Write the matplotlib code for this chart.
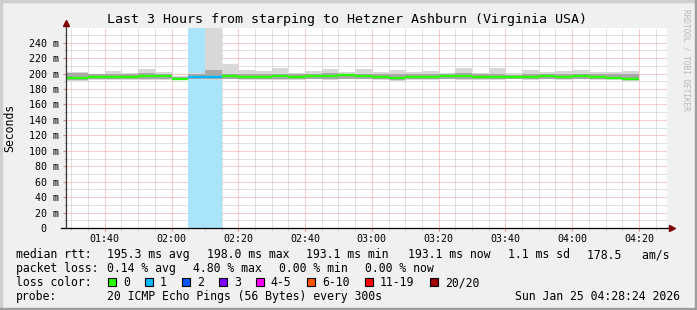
import numpy as np
import matplotlib.pyplot as plt
from matplotlib.patches import Rectangle
from matplotlib.ticker import FixedLocator, FuncFormatter

# 5-minute bins, labelled by their end time
times = ["01:30", "01:35", "01:40", "01:45", "01:50", "01:55", "02:00", "02:05",
         "02:10", "02:15", "02:20", "02:25", "02:30", "02:35", "02:40", "02:45",
         "02:50", "02:55", "03:00", "03:05", "03:10", "03:15", "03:20", "03:25",
         "03:30", "03:35", "03:40", "03:45", "03:50", "03:55", "04:00", "04:05",
         "04:10", "04:15", "04:20"]
median_ms = [194.2, 194.2, 195.8, 195.8, 195.3, 196.2, 196.6, 193.4, 195.4, 195.4,
             196.2, 195.2, 195.7, 196.2, 195.9, 196.6, 196.2, 198.0, 196.6, 195.2,
             194.6, 195.7, 195.7, 196.6, 196.6, 195.7, 195.7, 195.7, 195.7, 196.6,
             195.7, 196.6, 195.2, 194.4, 193.1]
loss = [0, 0, 0, 0, 0, 0, 0, 0, 1, 1, 0, 0, 0, 0, 0, 0, 0, 0, 0, 0, 0, 0, 0, 0,
        0, 0, 0, 0, 0, 0, 0, 0, 0, 0, 0]
smoke_lo = [191.0, 191.0, 192.0, 192.0, 191.5, 192.0, 192.0, 192.0, 192.5, 192.0,
            192.5, 191.5, 192.0, 192.0, 192.0, 192.5, 192.0, 192.5, 192.5, 191.5,
            191.0, 192.0, 192.0, 192.5, 192.0, 192.0, 192.0, 192.5, 192.0, 192.5,
            192.0, 192.5, 191.5, 191.5, 191.0]
smoke_q1 = [192.0, 192.0, 193.0, 193.0, 192.5, 193.0, 193.0, 192.5, 193.5, 193.0,
            193.5, 192.5, 193.0, 193.0, 193.0, 193.5, 193.0, 193.5, 193.5, 192.5,
            192.0, 193.0, 193.0, 193.5, 193.0, 193.0, 193.0, 193.5, 193.0, 193.5,
            193.0, 193.5, 192.5, 192.5, 192.0]
smoke_q3 = [200.5, 200.5, 198.8, 200.0, 199.5, 200.5, 199.8, 196.0, 199.5, 204.5,
            200.0, 199.5, 199.0, 200.0, 199.0, 199.5, 200.5, 200.0, 200.0, 199.5,
            199.5, 199.0, 200.0, 199.5, 200.5, 199.0, 200.0, 198.5, 200.0, 199.5,
            199.5, 200.0, 199.0, 199.5, 200.0]
smoke_hi = [202.3, 202.3, 199.8, 203.7, 200.6, 205.8, 202.3, 197.0, 201.0, 300.0,
            212.3, 204.5, 202.8, 207.0, 200.6, 203.7, 205.8, 201.5, 205.8, 201.5,
            204.5, 201.5, 203.7, 201.0, 207.0, 201.0, 207.0, 200.6, 204.5, 202.3,
            203.0, 204.5, 202.3, 202.3, 203.7]

t_start = "01:28:24"
t_end = "04:28:24"

loss_labels = ["0", "1", "2", "3", "4-5", "6-10", "11-19", "20/20"]
loss_colors = ["#26ff00", "#00b8ff", "#0059ff", "#7e00ff", "#ff00ff", "#ff5500",
               "#ff0000", "#a00000"]

stats_rtt = ["195.3 ms avg", "198.0 ms max", "193.1 ms min", "193.1 ms now",
             "1.1 ms sd", "178.5   am/s"]
stats_loss = ["0.14 % avg", "4.80 % max", "0.00 % min", "0.00 % now"]


def to_min(s):
    parts = [int(p) for p in s.split(":")]
    while len(parts) < 3:
        parts.append(0)
    return parts[0] * 60 + parts[1] + parts[2] / 60.0


W, H = 697, 310
plt.rcParams["font.family"] = "DejaVu Sans Mono"

fig = plt.figure(figsize=(W / 100, H / 100), dpi=100, facecolor="#f0f0f0")
# plot area on whole pixels so the 1px dotted grid stays crisp
AX_L, AX_R, AX_B, AX_T = 66, 667, 228, 28
ax = fig.add_axes([AX_L / W, (H - AX_B) / H, (AX_R - AX_L) / W, (AX_B - AX_T) / H])
ax.set_facecolor("white")

ends = np.array([to_min(t) for t in times])
med = np.array(median_ms)
ymax = 259

# loss background
lossy = np.array(loss) > 0
ax.bar(ends[lossy], ymax, width=-5, align="edge", bottom=0, color="#aae4fa",
       linewidth=0, zorder=1)

# smoke
lo, q1, q3, hi = map(np.array, (smoke_lo, smoke_q1, smoke_q3, smoke_hi))
ax.bar(ends, hi - lo, bottom=lo, width=-5, align="edge", color="#d8d8d8",
       linewidth=0, zorder=2)
ax.bar(ends, q3 - q1, bottom=q1, width=-5, align="edge", color="#a8a8a8",
       linewidth=0, zorder=3)

# median line coloured by loss
ax.hlines(med, ends - 5, ends, colors=[loss_colors[l] for l in loss], lw=1.7,
          zorder=4)

ax.set_xlim(to_min(t_start), to_min(t_end))
ax.set_ylim(0, ymax)

# grid
ax.xaxis.set_major_locator(FixedLocator(np.arange(100, 270, 20)))
ax.xaxis.set_minor_locator(FixedLocator(np.arange(90, 270, 5)))
ax.yaxis.set_major_locator(FixedLocator(np.arange(0, 241, 20)))
ax.yaxis.set_minor_locator(FixedLocator(np.arange(10, 251, 10)))
ax.xaxis.set_major_formatter(FuncFormatter(lambda v, p: f"{int(v) // 60:02d}:{int(v) % 60:02d}"))
ax.yaxis.set_major_formatter(FuncFormatter(lambda v, p: "0  " if v == 0 else f"{v:.0f} m"))
ax.grid(which="minor", color="#c4c4c4", linestyle=(0, (1, 1)), lw=0.72, zorder=0)
ax.grid(which="major", color="#f29a9a", linestyle=(0, (1, 1)), lw=0.72, zorder=0)
ax.set_axisbelow(True)
ax.tick_params(which="both", direction="out", labelsize=7.2, pad=1.5)
ax.tick_params(which="major", length=2.5, color="#e08080")
ax.tick_params(which="minor", length=1.5, color="#b0b0b0")
ax.tick_params(axis="y", pad=2.5)
for s in ax.spines.values():
    s.set_visible(False)

# axes with arrows
ax.plot([-0.008, 1.006], [0, 0], transform=ax.transAxes, color="black", lw=0.9,
        clip_on=False, zorder=6)
ax.plot([0, 0], [0, 1.02], transform=ax.transAxes, color="#333333", lw=0.9,
        clip_on=False, zorder=6)
ax.plot([1.008], [0], marker=">", ms=4, color="#7f0000", transform=ax.transAxes,
        clip_on=False, zorder=7)
ax.plot([0], [1.025], marker="^", ms=4, color="#7f0000", transform=ax.transAxes,
        clip_on=False, zorder=7)

ax.set_ylabel("Seconds", fontsize=8.3)
ax.yaxis.set_label_coords(-50 / (AX_R - AX_L), 0.5)


def px(x, y):
    return x / W, 1 - y / H


fig.text(*px(347, 19), "Last 3 Hours from starping to Hetzner Ashburn (Virginia USA)",
         fontsize=9.6, ha="center", va="center")
fig.text(*px(686, 60), "RRDTOOL / TOBI OETIKER", fontsize=5.6, color="#b8b8b8",
         rotation=270, ha="center", va="center")

LS = 8.3
BL = 4.0  # baseline offset below row centre


def row(x, y, s, **kw):
    fig.text(*px(x, y + BL), s, fontsize=LS, va="baseline", **kw)


row(16, 254, "median rtt:")
for s, x in zip(stats_rtt, [107.3, 207.3, 306.0, 407.7, 507.7, 586.7]):
    row(x, 254, s)
row(16, 268.3, "packet loss:")
for s, x in zip(stats_loss, [107.3, 193.3, 279.3, 365.0]):
    row(x, 268.3, s)

row(16, 282.3, "loss color:")
bx = 108.3
for lab, col in zip(loss_labels, loss_colors):
    fig.add_artist(Rectangle(px(bx, 286.3), 8 / W, 8 / H, facecolor=col,
                             edgecolor="black", lw=0.8, transform=fig.transFigure))
    row(bx + 14.5, 282.3, lab)
    bx += 30 + 7.0 * len(lab)

row(16, 295.7, "probe:")
row(107.3, 295.7, "20 ICMP Echo Pings (56 Bytes) every 300s")
row(680, 295.7, "Sun Jan 25 04:28:24 2026", ha="right")

# 3d frame
fig.add_artist(Rectangle((0, 1 - 2 / H), 1, 2 / H, color="#cfcfcf", transform=fig.transFigure))
fig.add_artist(Rectangle((0, 0), 2 / W, 1, color="#cfcfcf", transform=fig.transFigure))
fig.add_artist(Rectangle((0, 0), 1, 2 / H, color="#9e9e9e", transform=fig.transFigure))
fig.add_artist(Rectangle((1 - 2 / W, 0), 2 / W, 1, color="#9e9e9e", transform=fig.transFigure))

fig.savefig("out.png", dpi=100, facecolor=fig.get_facecolor())
